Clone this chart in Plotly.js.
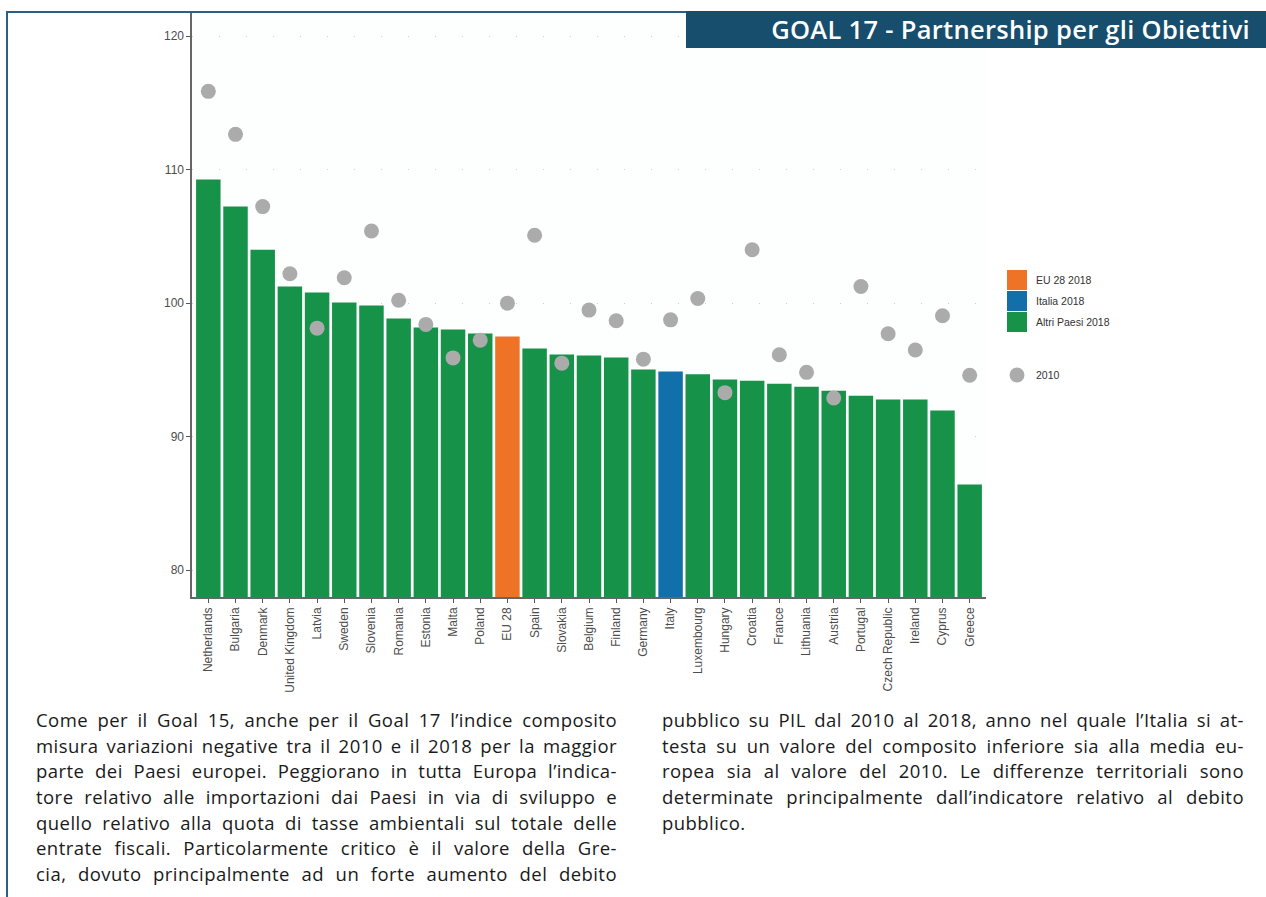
<!DOCTYPE html>
<html>
<head>
<meta charset="utf-8">
<script src="https://cdn.plot.ly/plotly-3.0.1.min.js"></script>
<style>
  html, body { margin:0; padding:0; background:#fff; }
  body { width:1266px; height:897px; position:relative; overflow:hidden; }
  #chart { position:absolute; left:0; top:0; width:1266px; height:897px; }
  #frameTop { position:absolute; left:6px; top:11px; width:680px; height:2px; background:#2c5f85; }
  #frameLeft { position:absolute; left:6px; top:11px; width:2px; height:886px; background:#2c5f85; }
  #banner { position:absolute; left:686px; top:11px; width:580px; height:37px; background:#174d6d;
            color:#fff; font-family:"Open Sans", sans-serif; font-weight:600; font-size:25.5px; letter-spacing:0.3px;
            line-height:37px; text-align:right; box-sizing:border-box; padding-right:16px; white-space:nowrap; }
  .col { position:absolute; top:707px; font-family:"Open Sans", sans-serif; font-size:18.5px; letter-spacing:0.45px; color:#1a1a1a; }
  .col div { height:25.7px; line-height:25.7px; text-align:justify; text-align-last:justify; white-space:nowrap; }
  .col div.last { text-align-last:left; }
</style>
</head>
<body>
<div id="chart"></div>
<div id="frameTop"></div>
<div id="frameLeft"></div>
<div id="banner">GOAL 17 - Partnership per gli Obiettivi</div>
<div class="col" id="colL" style="left:36px; width:581px;"></div>
<div class="col" id="colR" style="left:662px; width:582px;"></div>
<script>
// ---- data ----
const countries = ["Netherlands","Bulgaria","Denmark","United Kingdom","Latvia","Sweden","Slovenia","Romania","Estonia","Malta","Poland","EU 28","Spain","Slovakia","Belgium","Finland","Germany","Italy","Luxembourg","Hungary","Croatia","France","Lithuania","Austria","Portugal","Czech Republic","Ireland","Cyprus","Greece"];
const values2018 = [109.25,107.23,104.0,101.25,100.8,100.05,99.82,98.85,98.18,98.03,97.73,97.51,96.61,96.16,96.09,95.94,95.04,94.89,94.67,94.29,94.19,93.97,93.74,93.44,93.07,92.78,92.78,91.96,86.42];
const values2010 = [115.86,112.64,107.23,102.2,98.13,101.9,105.4,100.22,98.41,95.9,97.23,100.0,105.09,95.51,99.48,98.68,95.81,98.75,100.35,93.3,104.0,96.14,94.82,92.9,101.25,97.71,96.49,99.06,94.6];
const yTicks = [80,90,100,110,120];
const groupNames = ["EU 28 2018","Italia 2018","Altri Paesi 2018"];
const dotName = "2010";
const leftText = [
 "Come per il Goal 15, anche per il Goal 17 l’indice composito",
 "misura variazioni negative tra il 2010 e il 2018 per la maggior",
 "parte dei Paesi europei. Peggiorano in tutta Europa l’indica-",
 "tore relativo alle importazioni dai Paesi in via di sviluppo e",
 "quello relativo alla quota di tasse ambientali sul totale delle",
 "entrate fiscali. Particolarmente critico è il valore della Gre-",
 "cia, dovuto principalmente ad un forte aumento del debito"
];
const rightText = [
 "pubblico su PIL dal 2010 al 2018, anno nel quale l’Italia si at-",
 "testa su un valore del composito inferiore sia alla media eu-",
 "ropea sia al valore del 2010. Le differenze territoriali sono",
 "determinate principalmente dall’indicatore relativo al debito",
 "pubblico."
];

// ---- text columns ----
function fill(id, lines, lastLeft) {
  const el = document.getElementById(id);
  lines.forEach((t, i) => {
    const d = document.createElement('div');
    d.textContent = t;
    if (lastLeft && i === lines.length - 1) d.className = 'last';
    el.appendChild(d);
  });
}
fill('colL', leftText, false);
fill('colR', rightText, true);

// ---- chart ----
const colors = {eu:"#ee7326", it:"#1170aa", other:"#179249", dot:"#ababab"};
function pick(pred) {
  const x = [], y = [];
  countries.forEach((c, i) => { if (pred(c)) { x.push(c); y.push(values2018[i]); } });
  return {x, y};
}
const euD = pick(c => c === "EU 28");
const itD = pick(c => c === "Italy");
const otD = pick(c => c !== "EU 28" && c !== "Italy");

const traces = [
  {type:'bar', name:groupNames[2], x:otD.x, y:otD.y, width:0.9, marker:{color:colors.other}, showlegend:false, hoverinfo:'x+y'},
  {type:'bar', name:groupNames[0], x:euD.x, y:euD.y, width:0.9, marker:{color:colors.eu}, showlegend:false, hoverinfo:'x+y'},
  {type:'bar', name:groupNames[1], x:itD.x, y:itD.y, width:0.9, marker:{color:colors.it}, showlegend:false, hoverinfo:'x+y'},
  {type:'scatter', mode:'markers', name:dotName, x:countries, y:values2010, marker:{color:colors.dot, size:15}, showlegend:false, cliponaxis:false}
];

// legend geometry in pixels -> paper
const L = 192, T = 12, W = 794, H = 585;
const px = v => (v - L) / W;
const py = v => (T + H - v) / H;
const shapes = [
  {type:'rect', xref:'paper', yref:'paper', x0:px(1007), x1:px(1027), y0:py(290), y1:py(270), fillcolor:colors.eu, line:{width:0}},
  {type:'rect', xref:'paper', yref:'paper', x0:px(1007), x1:px(1027), y0:py(311), y1:py(291), fillcolor:colors.it, line:{width:0}},
  {type:'rect', xref:'paper', yref:'paper', x0:px(1007), x1:px(1027), y0:py(332), y1:py(312), fillcolor:colors.other, line:{width:0}},
  {type:'circle', xref:'paper', yref:'paper', x0:px(1009.5), x1:px(1024.5), y0:py(382.5), y1:py(367.5), fillcolor:colors.dot, line:{width:0}}
];
const legFont = {family:'"Liberation Sans", Arial, sans-serif', size:10.5, color:'#333'};
const annotations = [
  {xref:'paper', yref:'paper', x:px(1034), y:py(280), text:groupNames[0], showarrow:false, xanchor:'left', yanchor:'middle', font:legFont},
  {xref:'paper', yref:'paper', x:px(1034), y:py(301), text:groupNames[1], showarrow:false, xanchor:'left', yanchor:'middle', font:legFont},
  {xref:'paper', yref:'paper', x:px(1034), y:py(322), text:groupNames[2], showarrow:false, xanchor:'left', yanchor:'middle', font:legFont},
  {xref:'paper', yref:'paper', x:px(1034), y:py(375), text:dotName, showarrow:false, xanchor:'left', yanchor:'middle', font:legFont}
];

const tickFont = {family:'"Liberation Sans", Arial, sans-serif', size:12, color:'#4d4d4d'};
const layout = {
  width:1266, height:897,
  margin:{l:L, r:1266 - L - W, t:T, b:897 - T - H, pad:0},
  paper_bgcolor:'rgba(0,0,0,0)', plot_bgcolor:'#fdfefe',
  barmode:'overlay', showlegend:false,
  xaxis:{type:'category', categoryorder:'array', categoryarray:countries, range:[-0.6, 28.6],
         showline:true, linecolor:'#666', linewidth:1.6, ticks:'outside', ticklen:4, tickcolor:'#555', tickwidth:1,
         tickangle:-90, tickfont:tickFont, showgrid:false, zeroline:false, fixedrange:true},
  yaxis:{range:[78, 121.8], tickvals:yTicks, ticktext:yTicks.map(String),
         showline:true, linecolor:'#666', linewidth:1.6, ticks:'outside', ticklen:4, tickcolor:'#555', tickwidth:1,
         tickfont:tickFont, showgrid:true, gridcolor:'#cfcfcf', gridwidth:1, griddash:'1px,26px',
         zeroline:false, fixedrange:true},
  shapes:shapes, annotations:annotations,
  font:{family:'"Liberation Sans", Arial, sans-serif'}
};
Plotly.newPlot('chart', traces, layout, {displayModeBar:false, staticPlot:true});
</script>
</body>
</html>
